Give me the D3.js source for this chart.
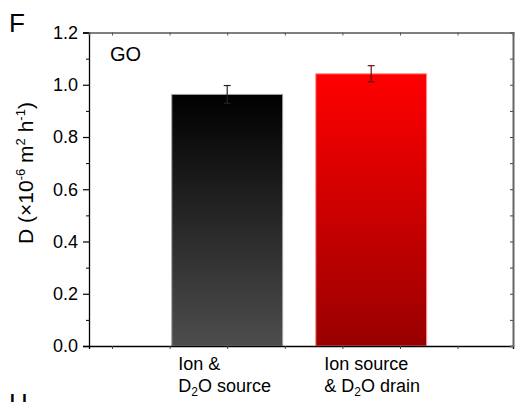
<!DOCTYPE html>
<html><head><meta charset="utf-8">
<script src="https://cdn.jsdelivr.net/npm/d3@7"></script>
<style>body{margin:0;background:#fff}svg{display:block}text{font-family:"Liberation Sans",Arial,sans-serif}</style>
</head><body>
<script>
const categories = ["Ion & D2O source", "Ion source & D2O drain"];
const catPos = [1, 2];
const values = [0.963, 1.042];
const errors = [0.034, 0.031];
const yTicks = [0, 0.2, 0.4, 0.6, 0.8, 1.0, 1.2];
const xTicks = [0.2, 0.6, 1.0, 1.4, 1.8, 2.2, 2.6];

(function () {
const W = 517, H = 402;
const svg = d3.select("body").append("svg").attr("width", W).attr("height", H);
const L = 89, R = 513, T = 32.5, B = 346;
const x = d3.scaleLinear().domain([0.04, 2.985]).range([L, R]);
const y = d3.scaleLinear().domain([0, 1.2]).range([B, T]);

const defs = svg.append("defs");
const grads = [["#000000", "#4d4d4d"], ["#ff0000", "#990000"]];
grads.forEach((g, i) => {
  const lg = defs.append("linearGradient").attr("id", "g" + i).attr("x1", 0).attr("y1", 0).attr("x2", 0).attr("y2", 1);
  lg.append("stop").attr("offset", "0%").attr("stop-color", g[0]);
  lg.append("stop").attr("offset", "100%").attr("stop-color", g[1]);
});
const strokes = ["#a0a0a0", "#ff9090"];
const errCol = ["#222", "#6a1010"];
const bw = 0.77;

svg.selectAll("rect.bar").data(values).enter().append("rect")
  .attr("x", (d, i) => x(catPos[i] - bw / 2))
  .attr("width", x(bw) - x(0))
  .attr("y", d => y(d))
  .attr("height", d => y(0) - y(d))
  .attr("fill", (d, i) => `url(#g${i})`)
  .attr("stroke", (d, i) => strokes[i]).attr("stroke-width", 1);

values.forEach((v, i) => {
  const cx = x(catPos[i]);
  const g = svg.append("g").attr("stroke", errCol[i]).attr("stroke-width", 1.2);
  g.append("line").attr("x1", cx).attr("x2", cx).attr("y1", y(v - errors[i])).attr("y2", y(v + errors[i]));
  [v - errors[i], v + errors[i]].forEach(e => g.append("line").attr("x1", cx - 3.5).attr("x2", cx + 3.5).attr("y1", y(e)).attr("y2", y(e)));
});

// Axes
const yMinor = d3.range(0.1, 1.2, 0.2);
const leftAx = svg.append("g").attr("transform", `translate(${L},0)`)
  .call(d3.axisLeft(y).tickValues(yTicks).tickFormat(d3.format(".1f")).tickSize(6).tickPadding(5));
leftAx.selectAll("text").attr("font-size", 18).attr("fill", "#000").attr("font-family", "Liberation Sans, Arial");
leftAx.select(".domain").attr("stroke", "#000").attr("stroke-width", 1.3);
leftAx.selectAll(".tick line").attr("stroke", "#000").attr("stroke-width", 1.2);
svg.append("g").attr("transform", `translate(${L},0)`)
  .call(d3.axisLeft(y).tickValues(yMinor).tickFormat("").tickSize(3))
  .call(g => g.select(".domain").remove())
  .selectAll("line").attr("stroke", "#000");

const bottomAx = svg.append("g").attr("transform", `translate(0,${B})`)
  .call(d3.axisBottom(x).tickValues(xTicks).tickFormat("").tickSize(3));
bottomAx.select(".domain").attr("stroke", "#000").attr("stroke-width", 1.3);
bottomAx.selectAll(".tick line").attr("stroke", "#444");

const topAx = svg.append("g").attr("transform", `translate(0,${T})`)
  .call(d3.axisBottom(x).tickValues(xTicks).tickFormat("").tickSize(3));
topAx.select(".domain").attr("stroke", "#555").attr("stroke-width", 1.6);
topAx.selectAll(".tick line").attr("stroke", "#555");

const rightAx = svg.append("g").attr("transform", `translate(${R},0)`)
  .call(d3.axisLeft(y).tickValues(d3.range(0.1, 1.2, 0.1)).tickFormat("").tickSize(3));
rightAx.select(".domain").attr("stroke", "#666").attr("stroke-width", 2);
rightAx.selectAll(".tick line").attr("stroke", "#444");

// X labels
const labLines = [
  [[{t: "Ion &"}], [{t: "D"}, {t: "2", sub: true}, {t: "O source"}]],
  [[{t: "Ion source"}], [{t: "& D"}, {t: "2", sub: true}, {t: "O drain"}]]
];
const labOff = [49, 47];
labLines.forEach((lines, i) => {
  const tx = svg.append("text").attr("font-size", 18).attr("fill", "#000");
  lines.forEach((ln, j) => {
    ln.forEach((p, k) => {
      const ts = tx.append("tspan").text(p.t);
      if (k === 0) ts.attr("x", x(catPos[i]) - labOff[i]).attr("y", 370 + j * 22);
      if (p.sub) ts.attr("font-size", 12).attr("dy", 4);
      else if (k > 0 && ln[k - 1].sub) ts.attr("dy", -4);
    });
  });
});

// Y title
const yt = svg.append("text").attr("transform", `translate(33,173) rotate(-90)`).attr("text-anchor", "middle").attr("font-size", 21).attr("fill", "#000");
yt.append("tspan").text("D (\u00d710");
yt.append("tspan").text("-6").attr("font-size", 13).attr("dy", -8);
yt.append("tspan").text(" m").attr("dy", 8);
yt.append("tspan").text("2").attr("font-size", 13).attr("dy", -8);
yt.append("tspan").text(" h").attr("dy", 8);
yt.append("tspan").text("-1").attr("font-size", 13).attr("dy", -8);
yt.append("tspan").text(")").attr("dy", 8);

svg.append("text").attr("x", 110).attr("y", 61).attr("font-size", 20).text("GO");
svg.append("text").attr("x", 9).attr("y", 32).attr("font-size", 26).text("F");
svg.append("text").attr("x", 9).attr("y", 412).attr("font-size", 26).text("H");
})();
</script>
</body></html>
